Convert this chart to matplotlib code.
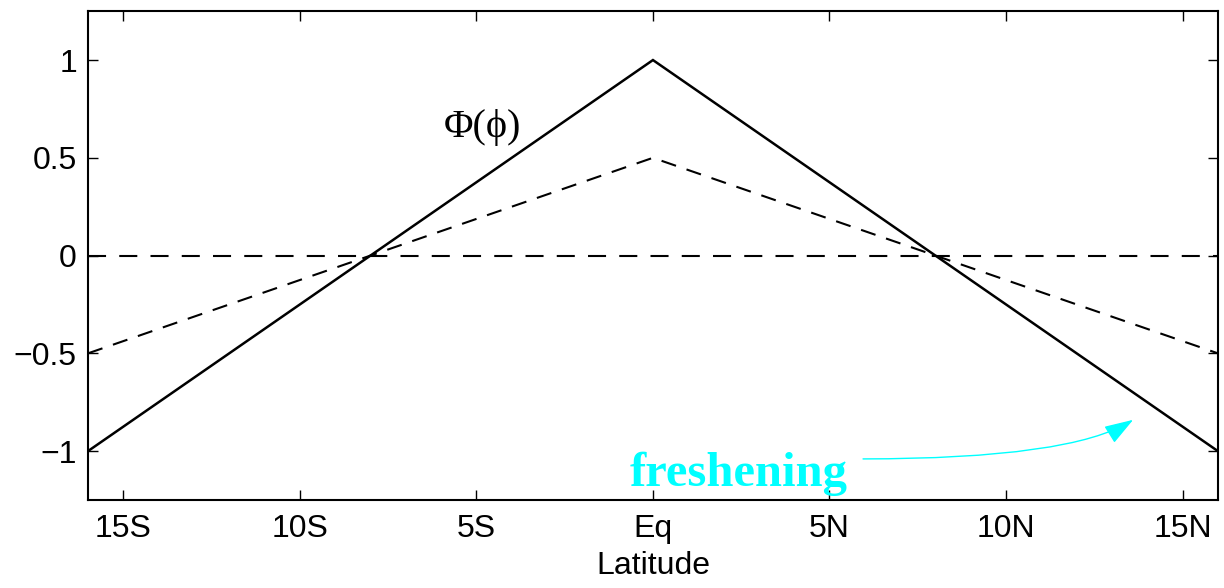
import matplotlib
matplotlib.use("Agg")
import matplotlib.pyplot as plt

# Data
lat_nodes = [-16, 0, 16]
phi_solid = [-1.0, 1.0, -1.0]
phi_dashed = [-0.5, 0.5, -0.5]
zero_line = [0.0, 0.0, 0.0]
xticks = [-15, -10, -5, 0, 5, 10, 15]
xticklabels = ["15S", "10S", "5S", "Eq", "5N", "10N", "15N"]
yticks = [-1, -0.5, 0, 0.5, 1]
yticklabels = ["\u22121", "\u22120.5", "0", "0.5", "1"]

plt.rcParams['font.family'] = ['Liberation Sans', 'DejaVu Sans']
plt.rcParams['lines.scale_dashes'] = False

fig = plt.figure(figsize=(12.24, 5.88), dpi=100)
ax = fig.add_axes([0.0719, 0.1497, 0.9231, 0.8313])

ax.plot(lat_nodes, phi_solid, color='black', lw=1.8, solid_joinstyle='miter')
ax.plot(lat_nodes, phi_dashed, color='black', lw=1.5, dashes=(11, 8))
ax.plot(lat_nodes, zero_line, color='black', lw=1.5, dashes=(13, 9.5))

ax.set_xlim(-16, 16)
ax.set_ylim(-1.25, 1.25)
ax.set_xticks(xticks)
ax.set_xticklabels(xticklabels)
ax.set_yticks(yticks)
ax.set_yticklabels(yticklabels)
ax.tick_params(direction='in', length=7, width=1.0, top=True, right=True,
               labelsize=23)
ax.tick_params(axis='x', pad=10)
ax.tick_params(axis='y', pad=8)
for s in ax.spines.values():
    s.set_linewidth(1.5)
ax.set_xlabel("Latitude", fontsize=23, labelpad=5)

ax.text(-4.84, 0.607, "\u03a6(\u03d5)", fontsize=29, ha='center', va='baseline',
        family=['Liberation Serif', 'DejaVu Serif'])

ax.text(2.43, -1.177, "freshening", fontsize=35, fontweight='bold', color='cyan',
        ha='center', va='baseline', family=['Liberation Serif', 'DejaVu Serif'])
ax.annotate("", xy=(13.6, -0.84), xytext=(5.95, -1.04),
            arrowprops=dict(arrowstyle='-|>,head_length=1.8,head_width=0.6',
                            color='cyan', lw=1.0,
                            connectionstyle='angle3,angleA=0,angleB=32',
                            shrinkA=0, shrinkB=0))

fig.savefig("out.png", dpi=100)
